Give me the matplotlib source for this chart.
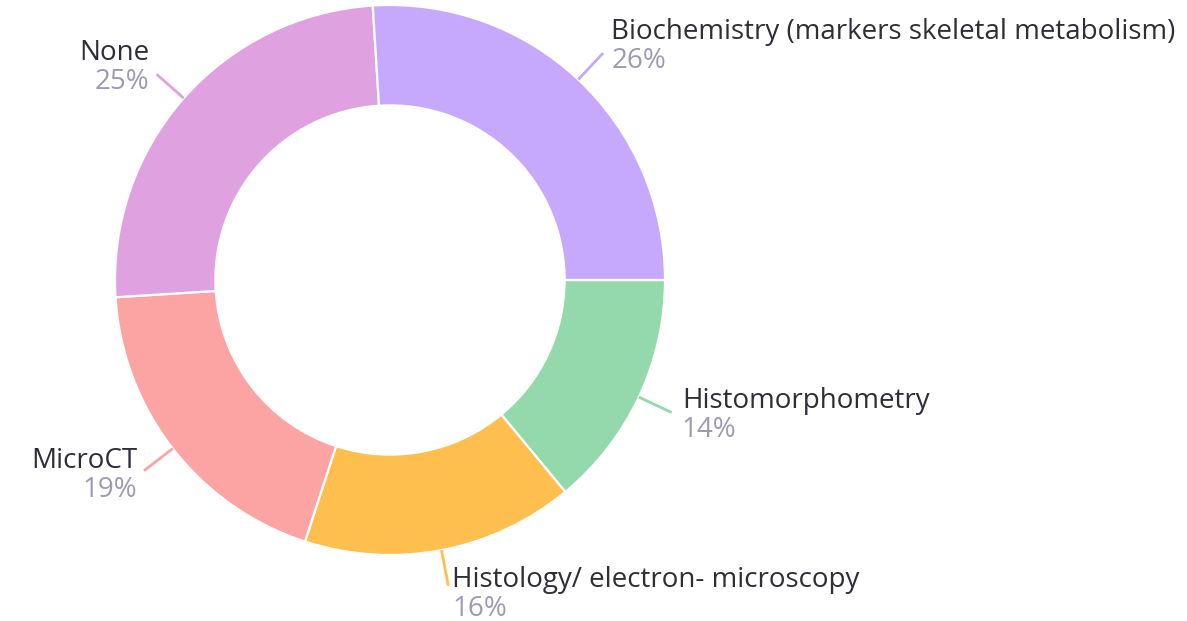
import numpy as np
import matplotlib
matplotlib.use("Agg")
import matplotlib.pyplot as plt

categories = ["Histomorphometry", "Histology/ electron- microscopy", "MicroCT", "None",
              "Biochemistry (markers skeletal metabolism)"]
values = [14, 16, 19, 25, 26]
colors = ["#93d9ab", "#ffbf4f", "#fca3a3", "#e0a1e1", "#c6a8fd"]
# label side: 1 = right (left-aligned text), -1 = left (right-aligned text)
sides = [1, 1, -1, -1, 1]

plt.rcParams['font.family'] = ['Open Sans', 'DejaVu Sans']

W, H = 1187, 621
fig = plt.figure(figsize=(W / 100, H / 100), dpi=100)
ax = fig.add_axes([0, 0, 1, 1])
R = 275.0
cx, cy = 390.0, 280.0

wedges, _ = ax.pie(values, colors=colors, startangle=0, counterclock=False,
                   radius=1.0, wedgeprops=dict(width=0.365, edgecolor='white', linewidth=1.6))
ax.set_aspect('auto')
ax.set_xlim(-cx / R, (W - cx) / R)
ax.set_ylim(-(H - cy) / R, cy / R)
ax.axis('off')

name_color = "#2e2e38"
pct_color = "#9c9bb3"
total = sum(values)
px = 1.0 / R
for w, cat, v, col, side in zip(wedges, categories, values, colors, sides):
    ang = np.deg2rad((w.theta1 + w.theta2) / 2)
    x0, y0 = np.cos(ang) * 1.0, np.sin(ang) * 1.0
    x1, y1 = np.cos(ang) * 1.132, np.sin(ang) * 1.132
    ax.plot([x0, x1], [y0, y1], color=col, lw=2.0, solid_capstyle='butt')
    ra = 1.132 + 9 * px
    axx, ayy = np.cos(ang) * ra, np.sin(ang) * ra
    ha = 'left' if side > 0 else 'right'
    tx = axx + (2 * px if side > 0 else 0)
    ax.text(tx, ayy + 15 * px, cat, ha=ha, va='center', fontsize=20, color=name_color)
    ax.text(tx, ayy - 14 * px, f"{round(v / total * 100)}%", ha=ha, va='center',
            fontsize=20, color=pct_color)

fig.savefig("out.png", dpi=100, facecolor='white')
